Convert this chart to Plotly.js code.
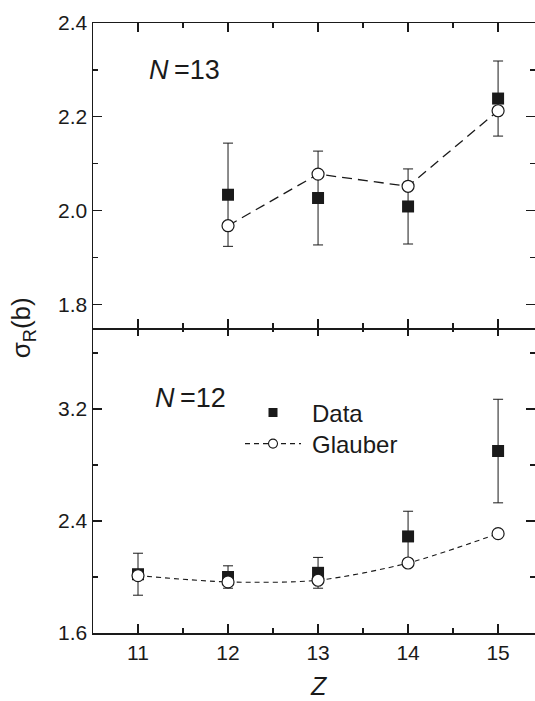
<!DOCTYPE html>
<html>
<head>
<meta charset="utf-8">
<script src="https://cdn.plot.ly/plotly-3.0.1.min.js"></script>
<style>html,body{margin:0;padding:0;background:#fff;}#chart{width:535px;height:701px;}</style>
</head>
<body>
<div id="chart"></div>
<script>
// N = 13 panel (top)
const zTop = [12, 13, 14, 15];
const dataTop = [2.034, 2.027, 2.009, 2.239];
const errTop = [0.11, 0.10, 0.08, 0.08];
const glauberTop = [1.968, 2.078, 2.052, 2.213];

// N = 12 panel (bottom)
const zBot = [11, 12, 13, 14, 15];
const dataBot = [2.02, 2.00, 2.03, 2.29, 2.90];
const errBot = [0.15, 0.08, 0.11, 0.18, 0.37];
const glauberBot = [2.01, 1.965, 1.977, 2.10, 2.31];

const xTickVals = [11, 12, 13, 14, 15];
const yTopTicks = [1.8, 2.0, 2.2, 2.4];
const yBotTicks = [1.6, 2.4, 3.2];

const FONT = 'Liberation Sans, Arial, Helvetica, sans-serif';
const INK = '#1a1a1a';

const traces = [
  {
    x: zTop, y: dataTop, xaxis: 'x2', yaxis: 'y2', type: 'scatter', mode: 'markers',
    name: 'Data', showlegend: false,
    marker: {symbol: 'square', size: 12, color: INK},
    error_y: {type: 'data', array: errTop, visible: true, color: INK, thickness: 1, width: 5}
  },
  {
    x: zTop, y: glauberTop, xaxis: 'x2', yaxis: 'y2', type: 'scatter', mode: 'lines+markers',
    name: 'Glauber', showlegend: false,
    line: {color: INK, width: 1.3, dash: '10px,6px'},
    marker: {symbol: 'circle', size: 12, color: '#fff', line: {color: INK, width: 1.2}}
  },
  {
    x: zBot, y: dataBot, xaxis: 'x', yaxis: 'y', type: 'scatter', mode: 'markers',
    name: 'Data', showlegend: false,
    marker: {symbol: 'square', size: 12, color: INK},
    error_y: {type: 'data', array: errBot, visible: true, color: INK, thickness: 1, width: 5}
  },
  {
    x: zBot, y: glauberBot, xaxis: 'x', yaxis: 'y', type: 'scatter', mode: 'lines+markers',
    name: 'Glauber', showlegend: false,
    line: {color: INK, width: 1.1, dash: '5px,4px', shape: 'spline', smoothing: 0.8},
    marker: {symbol: 'circle', size: 12, color: '#fff', line: {color: INK, width: 1.2}}
  },
  // legend-only entries (no points drawn)
  {
    x: [null], y: [null], xaxis: 'x', yaxis: 'y', type: 'scatter', mode: 'markers',
    name: '\u2005Data', legend: 'legend',
    marker: {symbol: 'square', size: 9, color: INK}
  },
  {
    x: [null], y: [null], xaxis: 'x', yaxis: 'y', type: 'scatter', mode: 'lines+markers',
    name: '\u2005Glauber', legend: 'legend2',
    line: {color: INK, width: 1.1, dash: '5px,4px'},
    marker: {symbol: 'circle', size: 9, color: '#fff', line: {color: INK, width: 1.1}}
  }
];

const axisCommon = {
  showline: true, linecolor: INK, linewidth: 1.5, mirror: 'ticks',
  ticks: 'inside', ticklen: 9, tickwidth: 1.2, tickcolor: INK,
  showgrid: false, zeroline: false,
  tickfont: {family: FONT, size: 21, color: INK}
};

const legendCommon = {
  xanchor: 'left', yanchor: 'middle',
  bgcolor: 'rgba(0,0,0,0)', font: {family: FONT, size: 24, color: INK},
  itemwidth: 56
};

const layout = {
  width: 535, height: 701,
  margin: {l: 93, r: 0, t: 23, b: 68},
  paper_bgcolor: '#fff', plot_bgcolor: '#fff',
  font: {family: FONT, color: INK},
  showlegend: true,
  legend: Object.assign({}, legendCommon, {x: (240 - 93) / 442, y: 1 - (413 - 23) / 610}),
  legend2: Object.assign({}, legendCommon, {x: (240 - 93) / 442, y: 1 - (444 - 23) / 610}),
  xaxis: Object.assign({}, axisCommon, {
    anchor: 'y', range: [10.5, 15.41], tickvals: xTickVals,
    minor: {dtick: 0.5, tick0: 10.5, ticks: 'inside', ticklen: 5, tickwidth: 1.2, tickcolor: INK}
  }),
  xaxis2: Object.assign({}, axisCommon, {
    anchor: 'y2', matches: 'x', range: [10.5, 15.41], tickvals: xTickVals, showticklabels: false,
    minor: {dtick: 0.5, tick0: 10.5, ticks: 'inside', ticklen: 5, tickwidth: 1.2, tickcolor: INK}
  }),
  yaxis: Object.assign({}, axisCommon, {
    domain: [0, 0.5 + 1.5 / 610], anchor: 'x', range: [1.6, 3.79],
    tickvals: yBotTicks, tickformat: '.1f',
    minor: {dtick: 0.4, tick0: 1.6, ticks: 'inside', ticklen: 5, tickwidth: 1.2, tickcolor: INK}
  }),
  yaxis2: Object.assign({}, axisCommon, {
    domain: [0.5, 1], anchor: 'x2', range: [1.75, 2.4],
    tickvals: yTopTicks, tickformat: '.1f',
    minor: {dtick: 0.1, tick0: 1.8, ticks: 'inside', ticklen: 5, tickwidth: 1.2, tickcolor: INK}
  }),
  annotations: [
    {text: '<i>N</i>\u2009=13', xref: 'paper', yref: 'paper', x: 0.122, y: 0.923,
     xanchor: 'left', yanchor: 'middle', showarrow: false,
     font: {family: FONT, size: 27, color: INK}},
    {text: '<i>N</i>\u2009=12', xref: 'paper', yref: 'paper', x: 0.135, y: 0.386,
     xanchor: 'left', yanchor: 'middle', showarrow: false,
     font: {family: FONT, size: 27, color: INK}},
    {text: 'σ<sub>R</sub>(b)', xref: 'paper', yref: 'paper', x: -0.16, y: 0.5,
     xanchor: 'center', yanchor: 'middle', textangle: -90, showarrow: false,
     font: {family: FONT, size: 26, color: INK}},
    {text: '<i>Z</i>', xref: 'paper', yref: 'paper', x: (318 - 93) / 442, y: -53 / 610,
     xanchor: 'center', yanchor: 'middle', showarrow: false,
     font: {family: FONT, size: 25, color: INK}}
  ]
};

Plotly.newPlot('chart', traces, layout, {displayModeBar: false, staticPlot: true});
</script>
</body>
</html>
